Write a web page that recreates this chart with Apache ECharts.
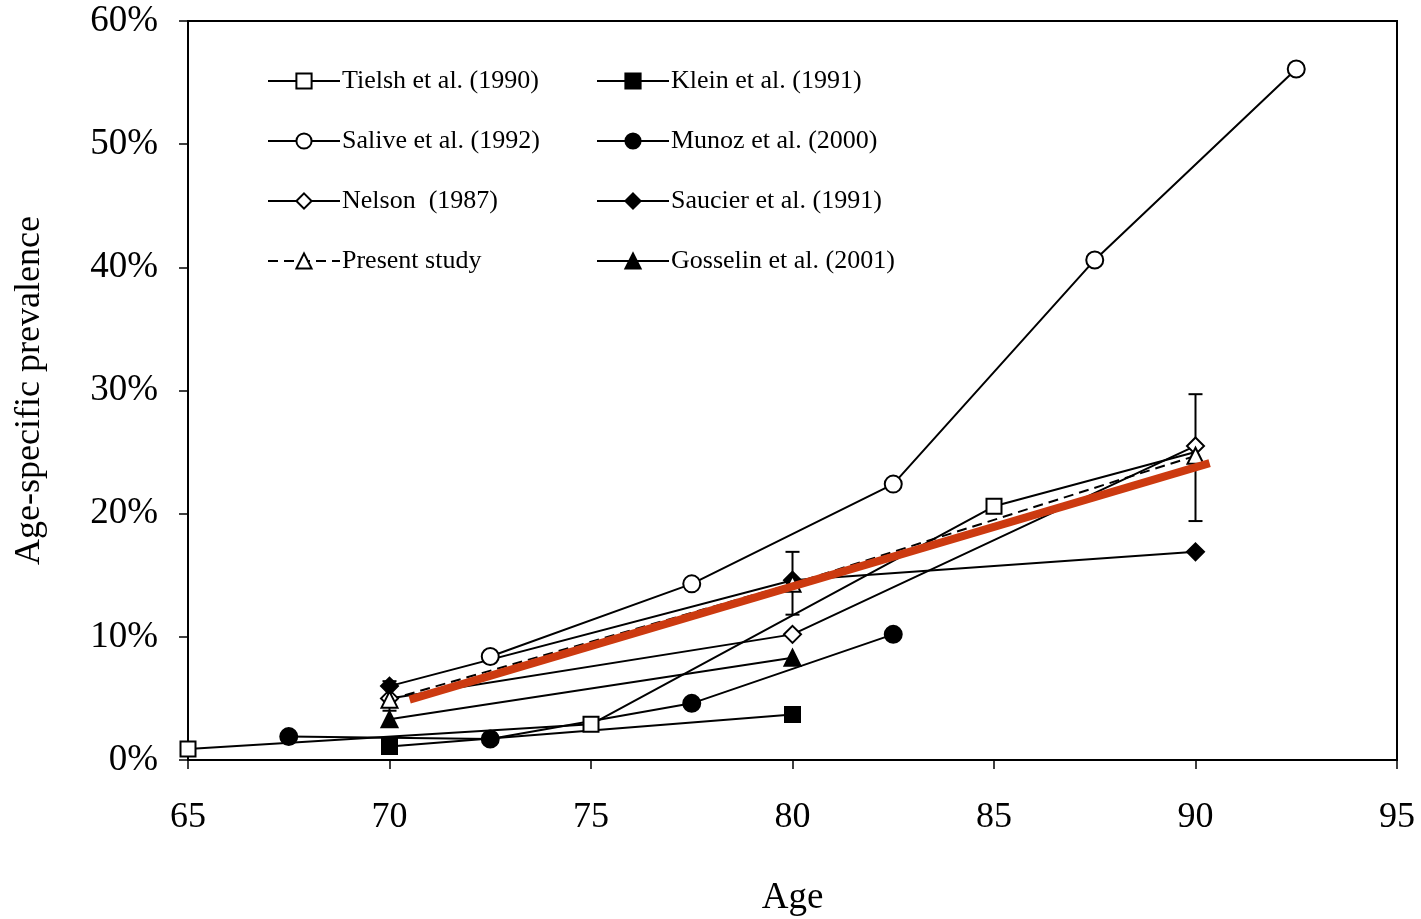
<!DOCTYPE html>
<html>
<head>
<meta charset="utf-8">
<script src="https://cdn.jsdelivr.net/npm/echarts@6/dist/echarts.min.js"></script>
<style>
  html, body { margin: 0; padding: 0; background: #fff; }
  #chart { width: 1421px; height: 919px; }
</style>
</head>
<body>
<div id="chart"></div>
<script>
// data (age, prevalence %)
var tielsh   = [[65, 0.9], [75, 2.9], [85, 20.6], [90, 25.0]]
var klein    = [[70, 1.1], [80, 3.7]]
var salive   = [[72.5, 8.4], [77.5, 14.3], [82.5, 22.4], [87.5, 40.6], [92.5, 56.1]]
var munoz    = [[67.5, 1.9], [72.5, 1.7], [77.5, 4.6], [82.5, 10.2]]
var nelson   = [[70, 5.0], [80, 10.2], [90, 25.5]]
var saucier  = [[70, 6.0], [80, 14.6], [90, 16.9]]
var present  = [[70, 4.9], [80, 14.3], [90, 24.7]]
var gosselin = [[70, 3.3], [80, 8.3]]

var trendAge = [70.5, 90.35]
var trendPct = [4.9, 24.1]

var errAge  = [70, 80, 90]
var errLow  = [4.0, 11.8, 19.4]
var errHigh = [6.4, 16.9, 29.7]

var serif = "'Liberation Serif', 'DejaVu Serif', serif"

function line_series(name, data, symbol, filled, size, dashed) {
    return {
        name: name,
        type: 'line',
        data: data,
        symbol: symbol,
        symbolSize: size,
        z: 3,
        lineStyle: { color: '#000', width: 2, type: dashed ? [10, 6] : 'solid' },
        itemStyle: { color: filled ? '#000' : '#fff', borderColor: '#000', borderWidth: 2 },
        emphasis: { disabled: true },
        animation: false
    }
}

var chart = echarts.init(document.getElementById('chart'))

var err_data = []
for (var i = 0; i < errAge.length; i++) {
    err_data.push([errAge[i], errLow[i], errHigh[i]])
}

var trend_data = []
for (var i = 0; i < trendAge.length; i++) {
    trend_data.push([trendAge[i], trendPct[i]])
}

var legend_common = {
    orient: 'vertical',
    top: 63,
    itemWidth: 72,
    itemHeight: 19,
    itemGap: 34,
    textStyle: { fontFamily: serif, fontSize: 26, color: '#000', padding: [0, 0, 0, -3] },
    selectedMode: false
}

var option = {
    backgroundColor: '#fff',
    animation: false,
    grid: {
        left: 188, right: 24, top: 21, bottom: 159,
        outerBoundsMode: 'none',
        containLabel: false,
        show: true, borderColor: '#000', borderWidth: 2
    },
    legend: [
        Object.assign({ left: 262, data: ['Tielsh et al. (1990)', 'Salive et al. (1992)', 'Nelson  (1987)', 'Present study'] }, legend_common),
        Object.assign({ left: 591, data: ['Klein et al. (1991)', 'Munoz et al. (2000)', 'Saucier et al. (1991)', 'Gosselin et al. (2001)'] }, legend_common)
    ],
    xAxis: {
        type: 'value',
        min: 65, max: 95, interval: 5,
        name: 'Age',
        nameLocation: 'middle',
        nameGap: 120,
        nameTextStyle: { fontFamily: serif, fontSize: 37, color: '#000' },
        axisLine: { lineStyle: { color: '#000', width: 2 } },
        axisTick: { length: 9, lineStyle: { color: '#000', width: 1.5 } },
        axisLabel: { fontFamily: serif, fontSize: 36, color: '#000', margin: 40 },
        splitLine: { show: false }
    },
    yAxis: {
        type: 'value',
        min: 0, max: 60, interval: 10,
        name: 'Age-specific prevalence',
        nameLocation: 'middle',
        nameGap: 140,
        nameTextStyle: { fontFamily: serif, fontSize: 36, color: '#000' },
        axisLine: { show: true, lineStyle: { color: '#000', width: 2 } },
        axisTick: { show: true, length: 9, lineStyle: { color: '#000', width: 1.5 } },
        axisLabel: { fontFamily: serif, fontSize: 37, color: '#000', margin: 30, formatter: '{value}%' },
        splitLine: { show: false }
    },
    series: [
        {
            name: 'err',
            type: 'custom',
            z: 2,
            data: err_data,
            renderItem: function (params, api) {
                var top = api.coord([api.value(0), api.value(2)])
                var bot = api.coord([api.value(0), api.value(1)])
                var w = 7
                var st = { stroke: '#000', lineWidth: 2 }
                return {
                    type: 'group',
                    children: [
                        { type: 'line', shape: { x1: top[0], y1: top[1], x2: bot[0], y2: bot[1] }, style: st },
                        { type: 'line', shape: { x1: top[0] - w, y1: top[1], x2: top[0] + w, y2: top[1] }, style: st },
                        { type: 'line', shape: { x1: bot[0] - w, y1: bot[1], x2: bot[0] + w, y2: bot[1] }, style: st }
                    ]
                }
            },
            animation: false
        },
        line_series('Tielsh et al. (1990)', tielsh.map(function (p, i) {
            return i === tielsh.length - 1 ? { value: p, symbol: 'none' } : p
        }), 'rect', false, 15),
        line_series('Klein et al. (1991)', klein, 'rect', true, 15),
        line_series('Salive et al. (1992)', salive, 'circle', false, 17),
        line_series('Munoz et al. (2000)', munoz, 'circle', true, 17),
        line_series('Nelson  (1987)', nelson, 'diamond', false, 17),
        line_series('Saucier et al. (1991)', saucier, 'diamond', true, 17),
        line_series('Present study', present, 'triangle', false, 16, true),
        line_series('Gosselin et al. (2001)', gosselin, 'triangle', true, 16),
        {
            name: 'trend',
            type: 'line',
            data: trend_data,
            symbol: 'none',
            z: 6,
            lineStyle: { color: '#cc3a10', width: 8 },
            emphasis: { disabled: true },
            animation: false
        }
    ]
}

chart.setOption(option)
</script>
</body>
</html>
